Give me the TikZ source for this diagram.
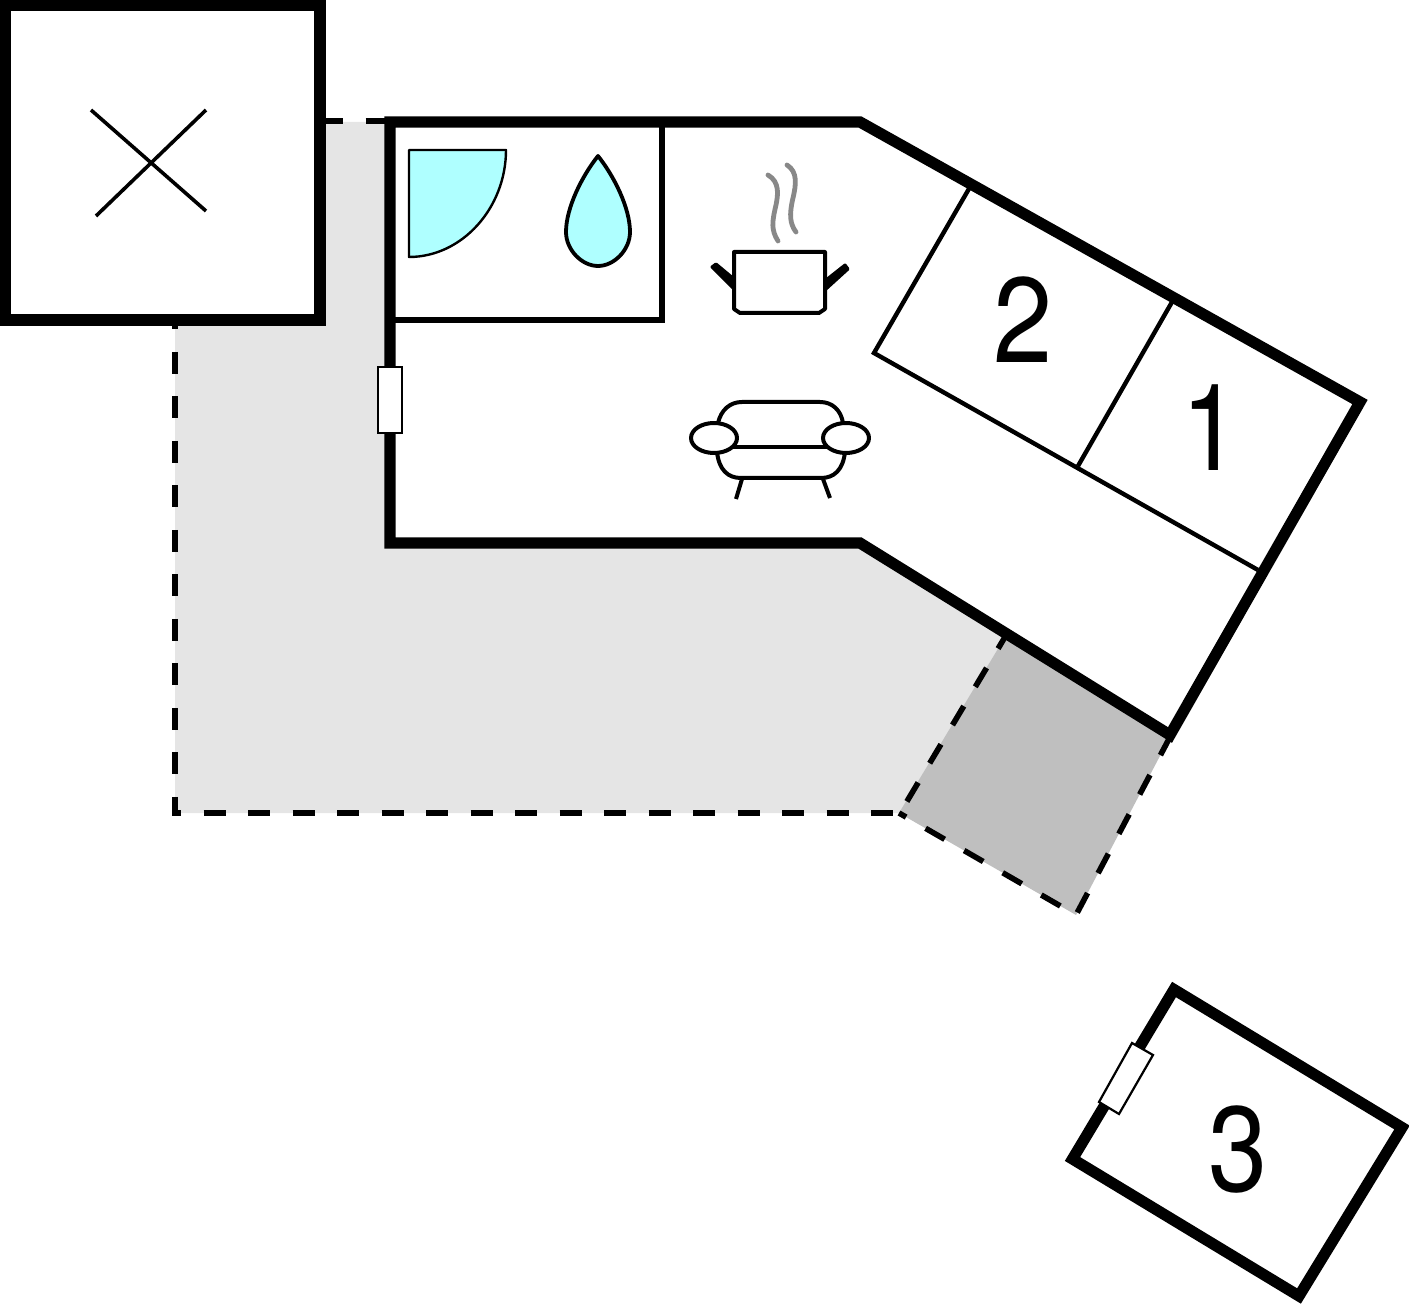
\documentclass[tikz,border=0pt]{standalone}
\usepackage{fontspec}
\usepackage{graphicx}
\setmainfont{TeX Gyre Heros}
\tikzset{
  wall/.style={line width=5.6pt,miter limit=10,line join=miter},
  partition/.style={line width=2.2pt},
  dashline/.style={line width=3pt,dash pattern=on 11pt off 11.25pt},
  doorbox/.style={draw=black,fill=white,line width=1.1pt},
  fixture/.style={draw=black,fill=bathblue,line join=round},
  icon/.style={line width=2pt,line join=round},
  steam/.style={draw=steamgray,line width=2.4pt,line cap=round},
  numlabel/.style={font=\fontsize{60.5}{60}\selectfont,inner sep=0pt}
}
\definecolor{bathblue}{HTML}{AFFFFF}
\definecolor{steamgray}{HTML}{888888}
\definecolor{terrace}{HTML}{E5E5E5}
\definecolor{covered}{HTML}{BFBFBF}
\begin{document}
\begin{tikzpicture}[x=0.5pt,y=-0.5pt]
\useasboundingbox (0,0) rectangle (1409,1304);
% terraces
\fill[terrace] (325,122) -- (390,122) -- (390,543) -- (860,543) -- (1005,637) -- (900,813) -- (175,813) -- (175,325) -- (325,325) -- cycle;
\fill[covered] (1005,637) -- (1170,737) -- (1076,915) -- (899,813) -- cycle;
% dashed outlines
\draw[dashline,line width=2.7pt] (321,121) -- (390,121);
\draw[dashline,dash phase=8.75pt] (175,325) -- (175,813) -- (900,813);
\draw[dashline,line width=2.8pt,dash phase=4.25pt] (1005,637) -- (900,813);
\draw[dashline,line width=2.8pt,dash phase=6.9pt] (899,813) -- (1076,915);
\draw[dashline,line width=2.8pt,dash phase=0.75pt] (1170,737) -- (1076,915);
% main house
\draw[wall,fill=white] (390,122) -- (860,122) -- (1360,402) -- (1170,735) -- (860,543) -- (390,543) -- cycle;
% bathroom
\draw[partition,line width=2.6pt] (392,320) -- (662,320) -- (662,124);
% bedrooms
\draw[partition] (970,187) -- (874,353) -- (1258,570);
\draw[partition] (1172,302) -- (1078,466);
% door main
\draw[doorbox] (378,367) rectangle (402,433);
% outbuilding top-left
\draw[wall,fill=white] (5,5) rectangle (320,320);
\draw[line width=1.8pt] (91,110) -- (206,211);
\draw[line width=1.8pt] (206,110) -- (96,216);
% shower
\draw[fixture,line width=1.2pt] (409,150) -- (506,150) .. controls (506,208) and (462,257) .. (409,257) -- cycle;
% drop
\draw[fixture,line width=1.9pt] (598,156) .. controls (582,176) and (566,208) .. (566,232) .. controls (566,250) and (582,266) .. (598,266) .. controls (614,266) and (630,250) .. (630,232) .. controls (630,208) and (614,176) .. (598,156) -- cycle;
% pot
\draw[steam] (768,175) .. controls (780,182) and (778,195) .. (776,205) .. controls (772,222) and (771,230) .. (778,241);
\draw[steam] (787,165) .. controls (798,172) and (796,185) .. (793,198) .. controls (789,215) and (790,224) .. (796,232);
\fill[line join=round,draw=black,line width=1.5pt] (712,267) -- (716,264) -- (734,279) -- (734,289) -- cycle;
\fill[line join=round,draw=black,line width=1.5pt] (848,269) -- (845,265) -- (826,280) -- (826,289) -- cycle;
\draw[icon,fill=white] (734,252) -- (825,252) -- (825,309) -- (819,313) -- (740,313) -- (734,309) -- cycle;
% sofa
\draw[icon] (718,423) .. controls (721,410) and (730,402) .. (742,402) -- (820,402) .. controls (832,402) and (841,410) .. (843,423);
\draw[icon] (730,447) -- (830,447);
\draw[icon] (717,452) .. controls (719,470) and (728,478) .. (741,478) -- (821,478) .. controls (834,478) and (843,470) .. (845,452);
\draw[icon] (742,479) -- (736,499);
\draw[icon] (823,479) -- (830,498);
\draw[icon,fill=white] (714,438) ellipse [x radius=23,y radius=15];
\draw[icon,fill=white] (846,438) ellipse [x radius=23,y radius=15];
% numbers
\node[numlabel] (two) at (1023,320) {\scalebox{0.88}[1]{2}};
\node[numlabel] (one) at (1211,428) {\scalebox{0.88}[1]{1}};
% outbuilding 3
\draw[wall] (1174,989.5) -- (1402,1127.5) -- (1299,1296) -- (1072.5,1159) -- cycle;
\draw[doorbox] (1132,1043) -- (1153,1055) -- (1119,1114) -- (1099,1102) -- cycle;
\node[numlabel] (three) at (1238,1150) {\scalebox{0.88}[1]{3}};
\end{tikzpicture}
\end{document}
